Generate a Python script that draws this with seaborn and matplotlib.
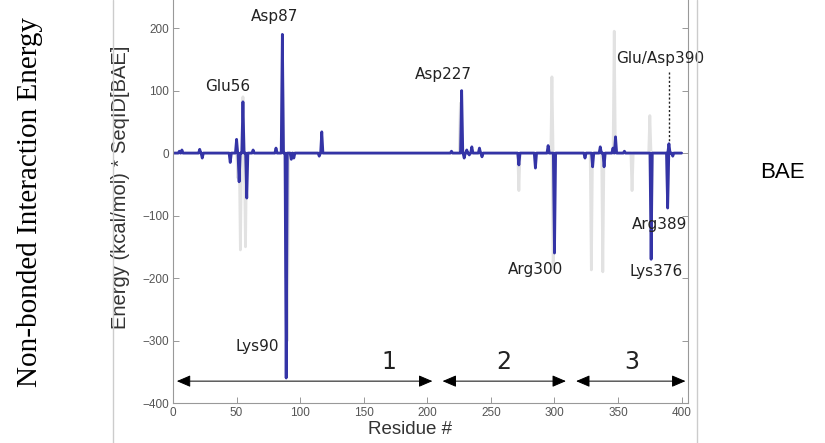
import matplotlib
matplotlib.use("Agg")
import matplotlib.pyplot as plt
from matplotlib.lines import Line2D
import seaborn as sns
import pandas as pd

# BAE blue trace: spikes (residue, energy in kcal/mol * SeqID); zero elsewhere
bae_res = [5, 7, 21, 23, 45, 50, 52, 55, 58, 63, 81, 86, 89, 93, 95, 115, 117,
           219, 224, 227, 229, 231, 233, 235, 241, 243, 272, 285, 295, 300,
           324, 330, 336, 339, 346, 348, 355, 376, 389, 390, 393]
bae_energy = [3, 5, 6, -8, -15, 22, -46, 82, -72, 5, 8, 190, -360, -10, -8, -5, 34,
              3, 0, 100, -8, 5, -3, 10, 8, -6, -19, -24, 12, -160,
              -8, -22, 10, -22, 8, 26, 3, -170, -88, 15, -5]

# Other proteins (light grey background traces): spikes
grey_res = [51, 53, 55, 57, 86, 89, 90, 226, 272, 298, 299, 329, 338, 347, 361, 375, 376, 389]
grey_energy = [-40, -155, 90, -150, 150, -200, -300, 80, -60, 122, -187, -187, -190, 195, -60,
               60, -120, -80]

# region arrows (start, end) and labels
region_start = [3, 212, 317]
region_end = [204, 309, 403]
region_labels = ["1", "2", "3"]
region_label_x = [170, 260, 361]

# residue annotations
ann_text = ["Asp87", "Glu56", "Asp227", "Glu/Asp390", "Arg300", "Arg389", "Lys376", "Lys90"]
ann_x = [80, 43, 213, 383, 285, 383, 380, 66]
ann_y = [218, 106, 125, 152, -187, -114, -190, -310]


def spike_trace(res, vals, first=1, last=400):
    xs, ys = [first], [0]
    for r, v in sorted(zip(res, vals)):
        xs += [r - 0.9, r, r + 0.9]
        ys += [0, v, 0]
    xs.append(last)
    ys.append(0)
    return pd.DataFrame({"Residue": xs, "Energy": ys})


sns.set_theme(style="white")
plt.rcParams['font.family'] = ['DejaVu Sans']

fig = plt.figure(figsize=(8.25, 4.43), dpi=100)
ax = fig.add_axes([173 / 825, 1 - 403 / 443, (688 - 173) / 825, 403 / 443])

sns.lineplot(data=spike_trace(grey_res, grey_energy), x="Residue", y="Energy", ax=ax,
             color="#e2e2e2", lw=2.0, estimator=None, sort=False)
sns.lineplot(data=spike_trace(bae_res, bae_energy), x="Residue", y="Energy", ax=ax,
             color="#3434a6", lw=2.0, estimator=None, sort=False)

ax.set_xlim(0, 405)
ax.set_ylim(-400, 245)
ax.set_xticks([0, 50, 100, 150, 200, 250, 300, 350, 400])
ax.set_yticks([-400, -300, -200, -100, 0, 100, 200])
ax.tick_params(direction="in", length=4, width=0.6, colors="#888888", labelcolor="#555555",
               labelsize=8.5, top=False, right=True, bottom=True, left=True, pad=3)
for lbl in ax.get_xticklabels() + ax.get_yticklabels():
    lbl.set_family("Liberation Sans")
for s in ["left", "bottom", "right"]:
    ax.spines[s].set_color("#999999")
    ax.spines[s].set_linewidth(0.8)
ax.spines["top"].set_visible(False)
ax.set_xlabel("Residue #", fontsize=13.5, color="#333333", family="Liberation Sans")
ax.set_ylabel("Energy (kcal/mol) * SeqID[BAE]", fontsize=14.5, color="#333333",
              family="Liberation Sans")
ax.yaxis.set_label_coords((130 - 173) / 515, 0.535)
ax.xaxis.set_label_coords((410 - 173) / 515, -0.045)

for s, e in zip(region_start, region_end):
    ax.annotate("", xy=(e, -365), xytext=(s, -365),
                arrowprops=dict(arrowstyle="<|-|>,head_length=0.7,head_width=0.3",
                                color="black", lw=0.7, shrinkA=0, shrinkB=0))
for lab, lx in zip(region_labels, region_label_x):
    ax.text(lx, -335, lab, fontsize=17, ha="center", va="center", color="#222222")

for t, x, y in zip(ann_text, ann_x, ann_y):
    ax.text(x, y, t, fontsize=11, ha="center", va="center", color="#222222")
ax.plot([390, 390], [130, 16], ls=(0, (1.5, 1.5)), color="#222222", lw=1.0)

fig.text(30 / 825, 1 - 202 / 443, "Non-bonded Interaction Energy", rotation=90, ha="center",
         va="center", fontsize=21, family="Liberation Serif", color="black")
fig.text(782 / 825, 1 - 172 / 443, "BAE", ha="center", va="center", fontsize=16,
         family="Liberation Sans", color="black")

fig.add_artist(Line2D([113 / 825, 113 / 825], [0, 1], color="#cccccc", lw=1.0))
fig.add_artist(Line2D([697 / 825, 697 / 825], [0, 1], color="#cccccc", lw=1.0))

fig.savefig("out.png", dpi=100)
